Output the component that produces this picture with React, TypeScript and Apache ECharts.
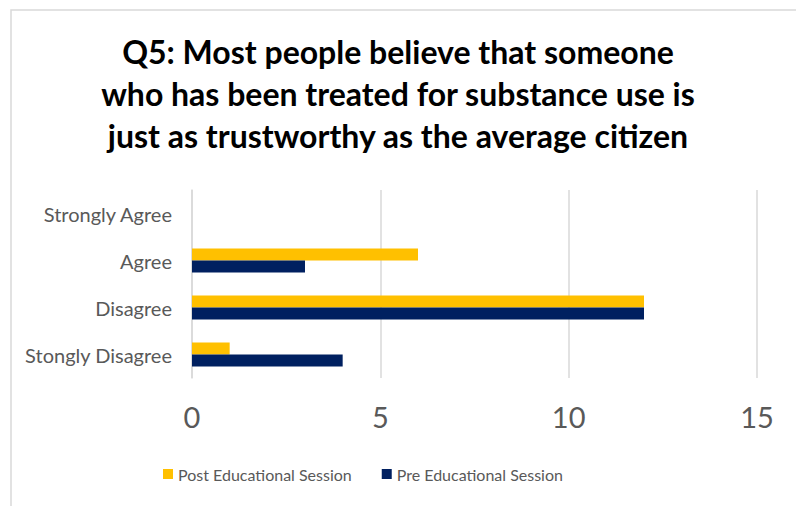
import React, { useEffect, useRef } from "react";
import * as echarts from "echarts";

const categories = ["Stongly Disagree", "Disagree", "Agree", "Strongly Agree"];
const preValues = [4, 12, 3, 0];
const postValues = [1, 12, 6, 0];
const seriesNames = ["Post Educational Session", "Pre Educational Session"];
const titleText =
  "Q5: Most people believe that someone\nwho has been treated for substance use is\njust as trustworthy as the average citizen";

export default function App() {
  const ref = useRef<HTMLDivElement>(null);
  useEffect(() => {
    document.body.style.margin = "0";
    const chart = echarts.init(ref.current!, null, { renderer: "svg" });
    chart.setOption({
      animation: false,
      backgroundColor: "#ffffff",
      title: {
        text: titleText,
        left: "center",
        top: 25,
        textStyle: {
          fontFamily: "Lato",
          fontWeight: "bold",
          fontSize: 32,
          lineHeight: 42,
          color: "#000000",
        },
      },
      graphic: [
        {
          type: "rect",
          shape: { x: 11, y: 10, width: 900, height: 600 },
          style: { fill: "none", stroke: "#d9d9d9", lineWidth: 1.5 },
          silent: true,
        },
      ],
      grid: { left: 192, right: 39, top: 190, bottom: 128, containLabel: false },
      xAxis: {
        type: "value",
        min: 0,
        max: 15,
        interval: 5,
        axisLine: { show: false },
        axisTick: { show: false },
        splitLine: { show: true, lineStyle: { color: "#d9d9d9", width: 1.5 } },
        axisLabel: {
          color: "#595959",
          fontFamily: "Lato",
          fontSize: 29,
          margin: 24,
        },
      },
      yAxis: {
        type: "category",
        data: categories,
        axisLine: { show: true, lineStyle: { color: "#d9d9d9", width: 1.5 } },
        axisTick: { show: false },
        axisLabel: {
          color: "#595959",
          fontFamily: "Lato",
          fontSize: 20,
          margin: 20,
        },
      },
      legend: {
        data: seriesNames,
        bottom: 19,
        left: 158,
        itemWidth: 10,
        itemHeight: 10,
        itemGap: 30,
        icon: "rect",
        textStyle: { color: "#595959", fontFamily: "Lato", fontSize: 16 },
      },
      series: [
        {
          name: seriesNames[0],
          type: "bar",
          data: postValues,
          itemStyle: { color: "#FFC000" },
          barGap: "0%",
          barCategoryGap: "49%",
        },
        {
          name: seriesNames[1],
          type: "bar",
          data: preValues,
          itemStyle: { color: "#002060" },
          barGap: "0%",
          barCategoryGap: "49%",
        },
      ],
    });
    return () => chart.dispose();
  }, []);
  return (
    <div
      ref={ref}
      style={{ position: "fixed", left: 0, top: 0, width: 796, height: 506 }}
    />
  );
}
